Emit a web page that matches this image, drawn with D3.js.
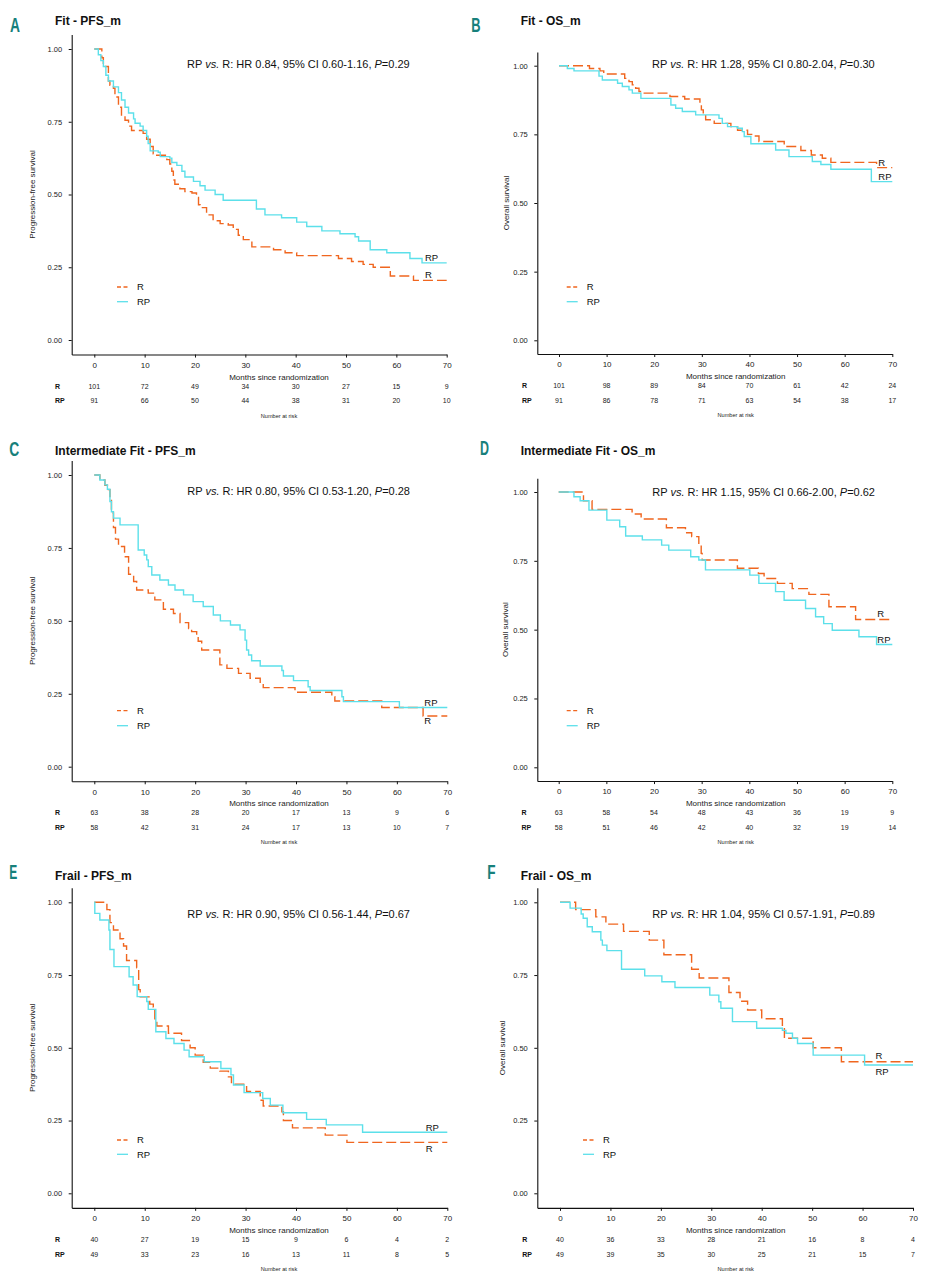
<!DOCTYPE html>
<html><head><meta charset="utf-8">
<script src="https://cdn.jsdelivr.net/npm/d3@7"></script>
<style>
body{margin:0;background:#fff}
svg{display:block}
</style>
</head><body>
<svg id="chart" width="928" height="1280"></svg>
<script>
// ---------- DATA ----------
const months = [0,10,20,30,40,50,60,70];
const yTicks = [0,0.25,0.5,0.75,1];
const groups = ["R","RP"];
const letters = ["A","B","C","D","E","F"];
const titles = ["Fit - PFS_m","Fit - OS_m","Intermediate Fit - PFS_m","Intermediate Fit - OS_m","Frail - PFS_m","Frail - OS_m"];
const yLabels = ["Progression-free survival","Overall survival","Progression-free survival","Overall survival","Progression-free survival","Overall survival"];
const hrValues = ["0.84","1.28","0.80","1.15","0.90","1.04"];
const ciValues = ["0.60-1.16","0.80-2.04","0.53-1.20","0.66-2.00","0.56-1.44","0.57-1.91"];
const pValues = ["0.29","0.30","0.28","0.62","0.67","0.89"];

// Kaplan-Meier steps: [month, survival after the step]
const fitPfsR = [[0,1],[1.5,0.97],[1.8,0.94],[2.8,0.89],[3.1,0.875],[3.8,0.865],[4.1,0.835],[4.8,0.80],[5.4,0.77],[6.1,0.755],[6.8,0.735],[7.4,0.72],[9.7,0.71],[10.4,0.69],[11.1,0.665],[11.7,0.64],[12.4,0.635],[14.4,0.62],[15.0,0.605],[15.4,0.58],[15.7,0.55],[16.0,0.535],[17.0,0.52],[18.0,0.51],[19.4,0.505],[20.3,0.49],[20.7,0.465],[21.0,0.455],[22.3,0.43],[23.6,0.41],[25.0,0.40],[26.6,0.395],[27.6,0.38],[28.6,0.36],[29.6,0.345],[31.3,0.32],[35.6,0.31],[37.9,0.30],[40.2,0.29],[48.5,0.28],[51.1,0.27],[53.4,0.26],[55.4,0.25],[58.8,0.22],[63.4,0.205]];
const fitPfsRP = [[0,1],[0.8,0.98],[1.3,0.96],[1.8,0.94],[2.3,0.91],[2.8,0.89],[3.8,0.87],[4.8,0.85],[5.4,0.825],[6.1,0.80],[6.8,0.78],[7.8,0.76],[8.1,0.745],[9.1,0.735],[9.7,0.72],[10.4,0.70],[10.7,0.675],[11.1,0.65],[12.7,0.645],[13.1,0.63],[15.0,0.625],[15.4,0.61],[16.4,0.60],[17.4,0.58],[18.0,0.56],[19.7,0.545],[21.0,0.53],[22.0,0.515],[24.0,0.50],[25.6,0.48],[32.2,0.45],[33.9,0.43],[37.2,0.42],[40.2,0.405],[42.2,0.39],[45.2,0.375],[48.8,0.365],[51.8,0.355],[52.5,0.34],[54.8,0.31],[58.1,0.30],[62.7,0.28],[65.1,0.265]];
const fitOsR = [[0,1],[6.4,0.99],[8.6,0.981],[9.4,0.97],[13.8,0.954],[14.7,0.942],[15.4,0.93],[16.1,0.918],[16.8,0.906],[17.5,0.90],[23.3,0.888],[26.4,0.879],[29.6,0.863],[29.9,0.839],[30.3,0.821],[30.8,0.803],[32.6,0.79],[36.1,0.778],[37.5,0.765],[39.6,0.75],[41.0,0.744],[42.0,0.724],[47.3,0.706],[50.8,0.691],[53.0,0.675],[55.3,0.663],[57.1,0.648],[66.7,0.629]];
const fitOsRP = [[0,1],[1.75,0.99],[3.15,0.981],[8.4,0.962],[9.1,0.948],[12.3,0.936],[13.3,0.924],[14.7,0.912],[15.4,0.90],[17.2,0.881],[23.5,0.857],[24.5,0.845],[25.9,0.833],[28.7,0.821],[33.6,0.808],[34.3,0.79],[35.4,0.778],[37.5,0.772],[38.5,0.76],[38.9,0.742],[40.3,0.716],[45.5,0.693],[48.3,0.669],[53.2,0.651],[55.0,0.64],[57.1,0.623],[65.6,0.578]];
const intPfsR = [[0,1],[1.1,0.983],[2.1,0.965],[2.6,0.95],[3.1,0.92],[3.4,0.87],[3.8,0.82],[4.2,0.78],[4.8,0.755],[6.0,0.72],[6.8,0.66],[7.8,0.635],[8.4,0.606],[10.7,0.595],[12.0,0.572],[13.7,0.54],[15.7,0.525],[17.0,0.494],[18.7,0.474],[19.3,0.463],[20.3,0.446],[20.6,0.43],[21.3,0.40],[24.9,0.349],[26.3,0.337],[28.6,0.32],[30.9,0.303],[32.9,0.286],[33.5,0.271],[39.8,0.255],[47.1,0.24],[47.7,0.225],[57.0,0.203],[65.2,0.174]];
const intPfsRP = [[0,1],[1.1,0.983],[2.1,0.966],[2.6,0.951],[3.1,0.909],[3.4,0.874],[3.8,0.852],[5.1,0.829],[8.7,0.743],[9.9,0.726],[10.4,0.709],[10.7,0.686],[11.4,0.657],[13.0,0.64],[14.7,0.623],[16.0,0.606],[17.7,0.589],[19.6,0.566],[21.6,0.549],[23.6,0.52],[25.0,0.50],[27.0,0.486],[28.9,0.469],[29.9,0.434],[30.2,0.40],[30.6,0.383],[31.2,0.363],[32.9,0.345],[37.2,0.33],[37.5,0.311],[39.5,0.295],[42.4,0.274],[42.8,0.261],[49.1,0.24],[49.4,0.223],[60.5,0.203]];
const intOsR = [[0,1],[5.2,0.968],[7.0,0.937],[15.4,0.92],[17.3,0.902],[22.6,0.87],[26.6,0.852],[27.9,0.838],[29.4,0.814],[29.9,0.777],[30.1,0.753],[37.5,0.723],[41.9,0.704],[43.1,0.686],[45.9,0.668],[49.0,0.649],[52.5,0.628],[56.7,0.583],[62.3,0.537]];
const intOsRP = [[0,1],[3.2,0.983],[4.5,0.968],[6.35,0.934],[10.1,0.898],[12.8,0.874],[14.05,0.84],[17.55,0.826],[21.6,0.807],[23.1,0.789],[27.7,0.765],[29.4,0.753],[30.8,0.717],[40.1,0.698],[42.0,0.668],[45.5,0.638],[47.3,0.607],[51.8,0.577],[53.9,0.547],[55.6,0.522],[57.4,0.498],[63.0,0.474],[66.7,0.446]];
const frailPfsR = [[0,1],[2.5,0.975],[3.1,0.93],[3.8,0.905],[5.1,0.875],[5.8,0.85],[6.4,0.80],[8.4,0.775],[8.8,0.70],[9.1,0.675],[11.0,0.65],[11.7,0.64],[12.0,0.60],[12.4,0.575],[14.7,0.55],[17.3,0.525],[19.0,0.50],[20.0,0.475],[21.6,0.45],[23.0,0.43],[24.9,0.42],[26.6,0.40],[27.2,0.375],[30.2,0.35],[32.9,0.32],[33.5,0.30],[37.2,0.28],[37.5,0.25],[39.3,0.225],[45.8,0.20],[50.1,0.175]];
const frailPfsRP = [[0,1],[0.1,0.962],[1.1,0.939],[2.9,0.905],[3.1,0.838],[3.9,0.779],[6.9,0.744],[7.7,0.716],[8.5,0.676],[10.4,0.659],[10.7,0.632],[12.2,0.555],[14.2,0.532],[15.8,0.515],[17.8,0.492],[18.8,0.469],[21.8,0.452],[25.1,0.429],[27.1,0.407],[27.6,0.372],[29.7,0.346],[33.4,0.326],[34.9,0.303],[37.4,0.277],[42.1,0.254],[46.0,0.235],[53.2,0.21]];
const frailOsR = [[0,1],[3.1,0.975],[7.1,0.95],[9.1,0.925],[12.6,0.90],[17.7,0.87],[20.6,0.82],[26.1,0.77],[27.6,0.74],[33.5,0.69],[35.7,0.66],[37.2,0.63],[40.0,0.60],[44.1,0.57],[44.5,0.533],[50.2,0.50],[55.8,0.452]];
const frailOsRP = [[0,1],[2.0,0.98],[4.2,0.96],[4.6,0.945],[5.4,0.916],[6.4,0.899],[8.1,0.87],[8.4,0.853],[9.3,0.834],[12.2,0.77],[16.8,0.747],[20.2,0.727],[22.8,0.707],[29.7,0.681],[31.5,0.658],[31.9,0.636],[34.2,0.59],[39.0,0.567],[44.1,0.56],[44.8,0.55],[46.1,0.533],[47.1,0.515],[50.2,0.475],[60.4,0.441]];

// Number at risk at months 0..70
const fitPfsRiskR = [101,72,49,34,30,27,15,9];
const fitPfsRiskRP = [91,66,50,44,38,31,20,10];
const fitOsRiskR = [101,98,89,84,70,61,42,24];
const fitOsRiskRP = [91,86,78,71,63,54,38,17];
const intPfsRiskR = [63,38,28,20,17,13,9,6];
const intPfsRiskRP = [58,42,31,24,17,13,10,7];
const intOsRiskR = [63,58,54,48,43,36,19,9];
const intOsRiskRP = [58,51,46,42,40,32,19,14];
const frailPfsRiskR = [40,27,19,15,9,6,4,2];
const frailPfsRiskRP = [49,33,23,16,13,11,8,5];
const frailOsRiskR = [40,36,33,28,21,16,8,4];
const frailOsRiskRP = [49,39,35,30,25,21,15,7];

const curves = [[fitPfsR,fitPfsRP],[fitOsR,fitOsRP],[intPfsR,intPfsRP],[intOsR,intOsRP],[frailPfsR,frailPfsRP],[frailOsR,frailOsRP]];
const risks = [[fitPfsRiskR,fitPfsRiskRP],[fitOsRiskR,fitOsRiskRP],[intPfsRiskR,intPfsRiskRP],[intOsRiskR,intOsRiskRP],[frailPfsRiskR,frailPfsRiskRP],[frailOsRiskR,frailOsRiskRP]];

// ---------- LAYOUT ----------
const layouts = [
 {axL:71.7, x0:94.3, x70:446.7, y1:49, y0:340, lx:10, ly:32, lw:10, tx:55, ty:25, hx:187, hy:68.3, legX:117, legR:287, legRP:301.7, endX:425, endR:274.5, endRP:257.5, rlx:55, mx:279, ylx:32},
 {axL:537.3, x0:559, x70:892.3, y1:65.7, y0:340.3, lx:471.3, ly:31.7, lw:9.3, tx:520.7, ty:25, hx:652, hy:68.3, legX:566.7, legR:287, legRP:301.7, endX:878.3, endR:162.7, endRP:176.7, rlx:522, mx:735.7, ylx:506.5},
 {axL:71.7, x0:94.3, x70:447.3, y1:475, y0:766.7, lx:9.3, ly:455.5, lw:10, tx:55, ty:455, hx:187.3, hy:495, legX:117, legR:710.7, legRP:725.7, endX:424.3, endR:721, endRP:702.7, rlx:55, mx:279, ylx:31.7},
 {axL:537.3, x0:558.7, x70:892.3, y1:492, y0:767.3, lx:480, ly:455, lw:9, tx:520.7, ty:455, hx:652.3, hy:495.5, legX:566.7, legR:710.7, legRP:725.7, endX:877.3, endR:614, endRP:640, rlx:521.5, mx:735.7, ylx:505.5},
 {axL:71.7, x0:94.3, x70:447.3, y1:902.3, y0:1193.3, lx:9.3, ly:879, lw:8, tx:55, ty:880, hx:187.3, hy:917.7, legX:117, legR:1140, legRP:1154.3, endX:425.7, endR:1148.3, endRP:1127.3, rlx:55, mx:279, ylx:31.7},
 {axL:537.3, x0:560, x70:913, y1:902.3, y0:1193.3, lx:487.3, ly:879, lw:8.3, tx:520.7, ty:880, hx:652.3, hy:918.3, legX:583, legR:1140, legRP:1154.3, endX:875.5, endR:1056, endRP:1071.7, rlx:522.3, mx:735.7, ylx:502.5}
];

// ---------- DRAW ----------
const FONT = '"Liberation Sans", Arial, Helvetica, sans-serif';
const colors = {R:"#F0661F", RP:"#5CE0EA"};
const svg = d3.select("#chart").style("font-family", FONT);

layouts.forEach((L, i) => {
  const ppm = (L.x70 - L.x0) / 70;
  const tLeft = (L.axL - L.x0) / ppm;
  const x = d3.scaleLinear().domain([tLeft, 70]).range([L.axL, L.x70]);
  const h = L.y0 - L.y1;
  const y = d3.scaleLinear().domain([-0.05, 1.05]).range([L.y0 + 0.05*h, L.y0 - 1.05*h]);
  const xAxisY = y(-0.05);
  const g = svg.append("g");

  // letter
  g.append("text").attr("x", L.lx).attr("y", L.ly).text(letters[i])
    .attr("fill", "#17807B").attr("font-weight", "bold").attr("font-size", 20.5)
    .attr("textLength", L.lw).attr("lengthAdjust", "spacingAndGlyphs");
  // title
  g.append("text").attr("x", L.tx).attr("y", L.ty).text(titles[i])
    .attr("font-weight", "bold").attr("font-size", 12).attr("fill", "#111");

  // axes
  const xa = g.append("g").attr("transform", `translate(0,${xAxisY})`)
    .call(d3.axisBottom(x).tickValues(months).tickSize(3).tickSizeOuter(0).tickPadding(4.7));
  xa.selectAll("text").attr("font-size", 8).attr("fill", "#222").attr("font-family", FONT);
  const ya = g.append("g").attr("transform", `translate(${L.axL},0)`)
    .call(d3.axisLeft(y).tickValues(yTicks).tickFormat(d3.format(".2f")).tickSize(3).tickSizeOuter(0).tickPadding(6.5));
  ya.selectAll("text").attr("font-size", 7.5).attr("fill", "#222").attr("font-family", FONT);
  g.selectAll(".domain").attr("stroke", "#111").attr("stroke-width", 1.1);
  g.selectAll(".tick line").attr("stroke", "#111").attr("stroke-width", 1);

  // y label
  g.append("text").attr("transform", `translate(${L.ylx},${(L.y1 + L.y0)/2}) rotate(-90)`)
    .attr("text-anchor", "middle").attr("dy", "0.35em").attr("font-size", 8).attr("fill", "#222")
    .text(yLabels[i]);
  // x label
  g.append("text").attr("x", L.mx).attr("y", xAxisY + 22.3).attr("dy", "0.36em")
    .attr("text-anchor", "middle").attr("font-size", 8).attr("fill", "#222")
    .text("Months since randomization");

  // curves
  const line = d3.line().x(d => x(d[0])).y(d => y(d[1])).curve(d3.curveStepAfter);
  groups.forEach((grp, k) => {
    const data = curves[i][k];
    const pts = data.concat([[70, data[data.length - 1][1]]]);
    g.append("path").datum(pts).attr("d", line).attr("fill", "none")
      .attr("stroke", colors[grp]).attr("stroke-width", 1.4)
      .attr("stroke-dasharray", grp === "R" ? "10,4" : null);
  });

  // legend
  groups.forEach((grp, k) => {
    const ly = k === 0 ? L.legR : L.legRP;
    g.append("line").attr("x1", L.legX).attr("x2", L.legX + 11).attr("y1", ly).attr("y2", ly)
      .attr("stroke", colors[grp]).attr("stroke-width", 1.3)
      .attr("stroke-dasharray", grp === "R" ? "4,2.5" : null);
    g.append("text").attr("x", L.legX + 20).attr("y", ly).attr("dy", "0.36em")
      .attr("font-size", 9.5).attr("fill", "#111").text(grp);
    // end labels
    g.append("text").attr("x", L.endX).attr("y", k === 0 ? L.endR : L.endRP).attr("dy", "0.36em")
      .attr("font-size", 9.5).attr("fill", "#111").text(grp);
  });

  // HR annotation
  const hr = g.append("text").attr("x", L.hx).attr("y", L.hy).attr("font-size", 11).attr("fill", "#111");
  hr.append("tspan").text("RP ");
  hr.append("tspan").attr("font-style", "italic").text("vs.");
  hr.append("tspan").text(` R: HR ${hrValues[i]}, 95% CI ${ciValues[i]}, `);
  hr.append("tspan").attr("font-style", "italic").text("P");
  hr.append("tspan").text(`=${pValues[i]}`);

  // risk table
  groups.forEach((grp, k) => {
    const ry = xAxisY + (k === 0 ? 31.5 : 46.3);
    g.append("text").attr("x", L.rlx).attr("y", ry).attr("dy", "0.36em")
      .attr("font-size", 7).attr("font-weight", "bold").attr("fill", "#111").text(grp);
    g.selectAll(null).data(risks[i][k]).enter().append("text")
      .attr("x", (d, j) => x(months[j])).attr("y", ry).attr("dy", "0.36em")
      .attr("text-anchor", "middle").attr("font-size", 7).attr("fill", "#222")
      .text(d => d);
  });
  g.append("text").attr("x", L.mx).attr("y", xAxisY + 61).attr("dy", "0.36em")
    .attr("text-anchor", "middle").attr("font-size", 5.6).attr("fill", "#222").text("Number at risk");
});
</script>
</body></html>
